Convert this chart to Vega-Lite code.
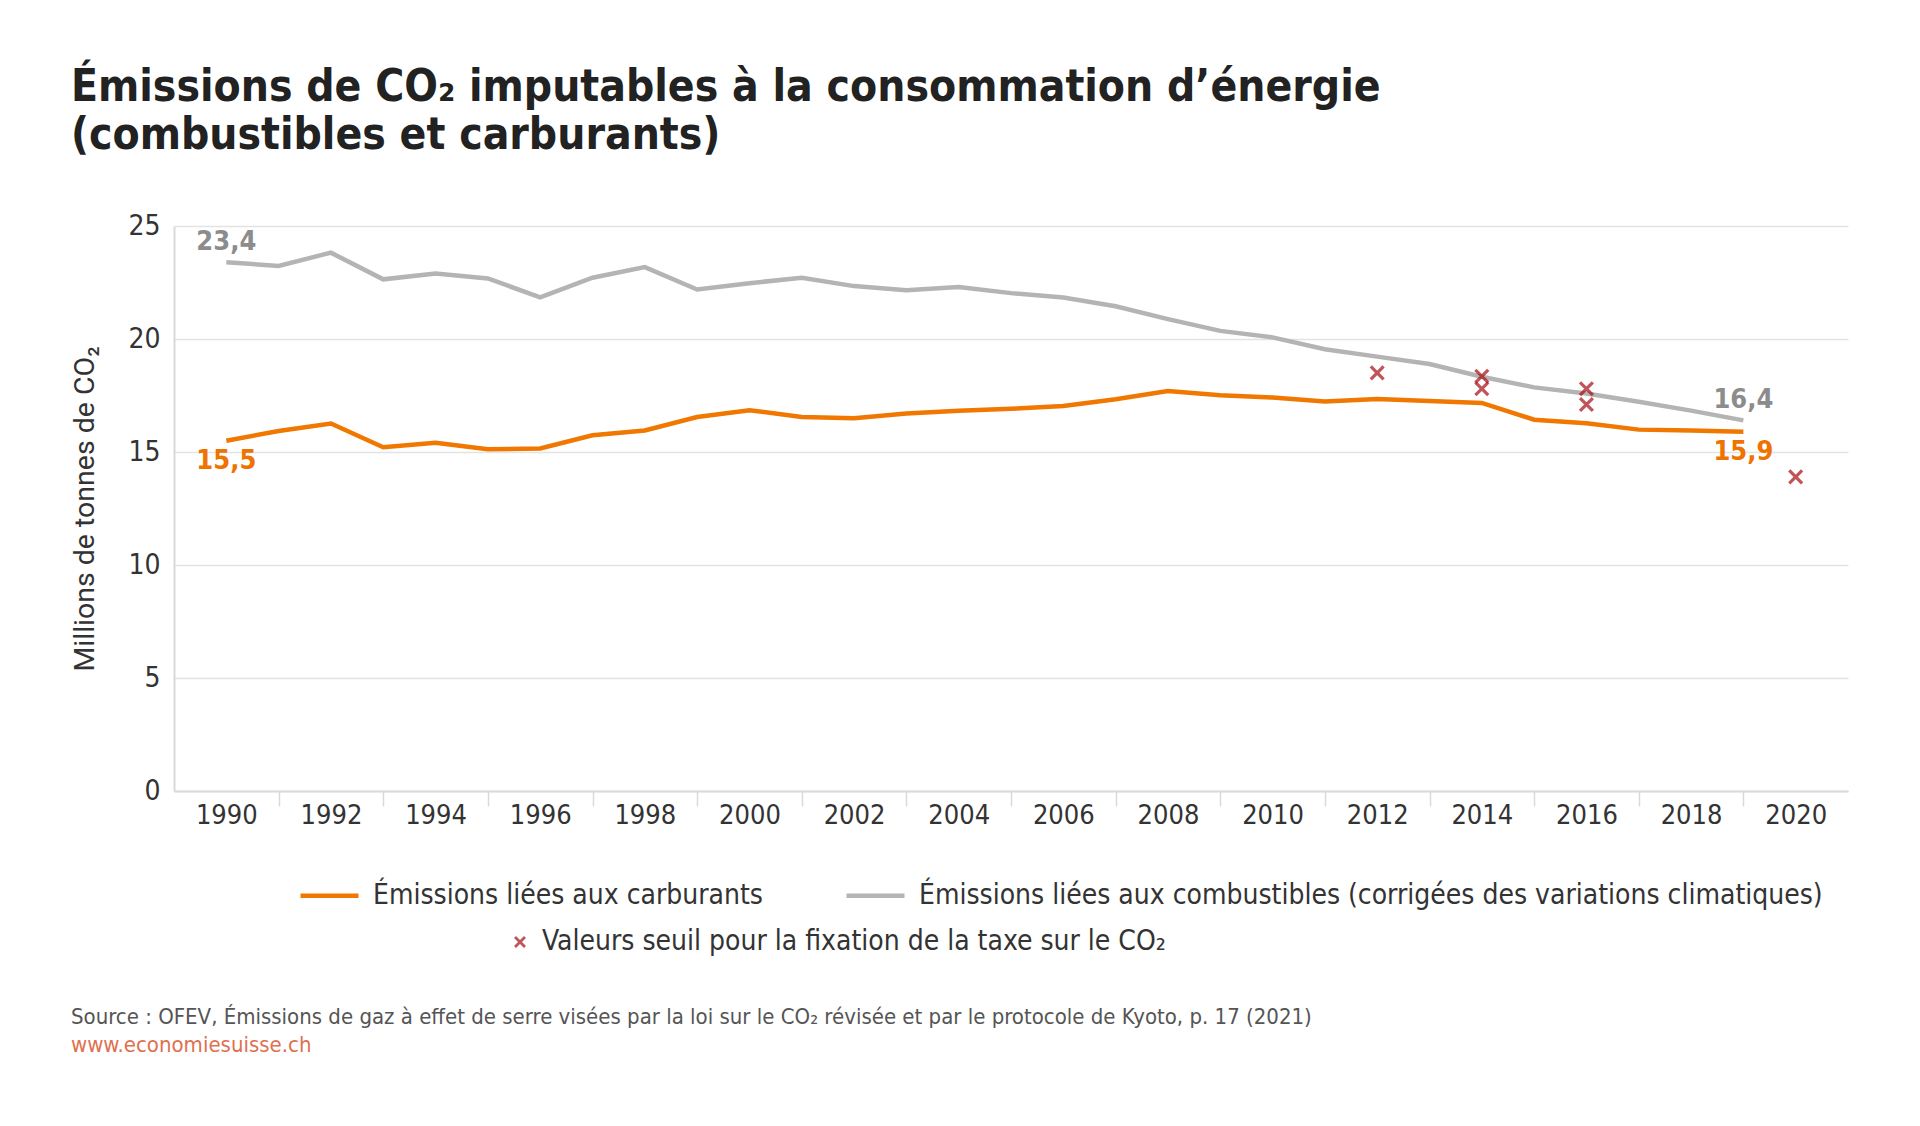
{
  "$schema": "https://vega.github.io/schema/vega-lite/v6.json",
  "background": "white",
  "padding": {"left": 70, "top": 66, "right": 71, "bottom": 20},
  "config": {
    "locale": {"number": {"decimal": ",", "thousands": " ", "grouping": [3], "currency": ["", " CHF"]}},
    "view": {"stroke": null},
    "font": "DejaVu Sans Condensed, sans-serif",
    "concat": {"spacing": 0}
  },
  "title": {
    "text": ["Émissions de CO₂ imputables à la consommation d’énergie", "(combustibles et carburants)"],
    "anchor": "start",
    "frame": "bounds",
    "font": "DejaVu Sans Condensed, sans-serif",
    "fontSize": 44,
    "fontWeight": "bold",
    "lineHeight": 48,
    "color": "#222222",
    "offset": 54
  },
  "datasets": {
    "emissions": [
      {"annee": 1990, "carburants": 15.5, "combustibles": 23.4},
      {"annee": 1991, "carburants": 15.93, "combustibles": 23.23},
      {"annee": 1992, "carburants": 16.26, "combustibles": 23.82},
      {"annee": 1993, "carburants": 15.21, "combustibles": 22.64},
      {"annee": 1994, "carburants": 15.41, "combustibles": 22.9},
      {"annee": 1995, "carburants": 15.12, "combustibles": 22.68},
      {"annee": 1996, "carburants": 15.16, "combustibles": 21.84},
      {"annee": 1997, "carburants": 15.74, "combustibles": 22.71},
      {"annee": 1998, "carburants": 15.95, "combustibles": 23.18},
      {"annee": 1999, "carburants": 16.55, "combustibles": 22.19},
      {"annee": 2000, "carburants": 16.85, "combustibles": 22.47},
      {"annee": 2001, "carburants": 16.55, "combustibles": 22.71},
      {"annee": 2002, "carburants": 16.49, "combustibles": 22.34},
      {"annee": 2003, "carburants": 16.7, "combustibles": 22.16},
      {"annee": 2004, "carburants": 16.82, "combustibles": 22.3},
      {"annee": 2005, "carburants": 16.91, "combustibles": 22.03},
      {"annee": 2006, "carburants": 17.04, "combustibles": 21.84},
      {"annee": 2007, "carburants": 17.33, "combustibles": 21.45},
      {"annee": 2008, "carburants": 17.7, "combustibles": 20.88},
      {"annee": 2009, "carburants": 17.51, "combustibles": 20.36},
      {"annee": 2010, "carburants": 17.41, "combustibles": 20.07},
      {"annee": 2011, "carburants": 17.23, "combustibles": 19.55},
      {"annee": 2012, "carburants": 17.34, "combustibles": 19.22},
      {"annee": 2013, "carburants": 17.26, "combustibles": 18.89},
      {"annee": 2014, "carburants": 17.17, "combustibles": 18.33},
      {"annee": 2015, "carburants": 16.43, "combustibles": 17.86},
      {"annee": 2016, "carburants": 16.27, "combustibles": 17.59},
      {"annee": 2017, "carburants": 15.99, "combustibles": 17.22},
      {"annee": 2018, "carburants": 15.95, "combustibles": 16.83},
      {"annee": 2019, "carburants": 15.9, "combustibles": 16.4}
    ],
    "seuils": [
      {"annee": 2012, "valeur": 18.5, "type": "Valeurs seuil pour la fixation de la taxe sur le CO₂"},
      {"annee": 2014, "valeur": 18.35, "type": "Valeurs seuil pour la fixation de la taxe sur le CO₂"},
      {"annee": 2014, "valeur": 17.8, "type": "Valeurs seuil pour la fixation de la taxe sur le CO₂"},
      {"annee": 2016, "valeur": 17.8, "type": "Valeurs seuil pour la fixation de la taxe sur le CO₂"},
      {"annee": 2016, "valeur": 17.1, "type": "Valeurs seuil pour la fixation de la taxe sur le CO₂"},
      {"annee": 2020, "valeur": 13.9, "type": "Valeurs seuil pour la fixation de la taxe sur le CO₂"}
    ]
  },
  "vconcat": [
    {
      "width": 1674,
      "height": 565,
      "title": {
        "text": "Source : OFEV, Émissions de gaz à effet de serre visées par la loi sur le CO₂ révisée et par le protocole de Kyoto, p. 17 (2021)",
        "subtitle": "www.economiesuisse.ch",
        "orient": "bottom",
        "anchor": "start",
        "frame": "bounds",
        "font": "DejaVu Sans Condensed, sans-serif",
        "fontSize": 22,
        "fontWeight": "normal",
        "color": "#555555",
        "subtitleFont": "DejaVu Sans Condensed, sans-serif",
        "subtitleFontSize": 22,
        "subtitleColor": "#e07050",
        "subtitlePadding": 6,
        "offset": 179
      },
      "encoding": {
        "x": {
          "field": "annee",
          "type": "quantitative",
          "scale": {"domain": [1989, 2021], "nice": false, "zero": false},
          "axis": {
            "values": [1990, 1991, 1992, 1993, 1994, 1995, 1996, 1997, 1998, 1999, 2000, 2001, 2002, 2003, 2004, 2005, 2006, 2007, 2008, 2009, 2010, 2011, 2012, 2013, 2014, 2015, 2016, 2017, 2018, 2019, 2020],
            "labelExpr": "datum.value % 2 === 0 ? '' + datum.value : ''",
            "tickOpacity": {"condition": {"test": "datum.value % 2 === 0", "value": 0}, "value": 1},
            "tickSize": 15,
            "tickWidth": 1.5,
            "tickColor": "#d9d9d9",
            "domainColor": "#d9d9d9",
            "domainWidth": 2,
            "grid": false,
            "title": null,
            "labelFontSize": 27,
            "labelColor": "#333333",
            "labelPadding": -4,
            "labelOverlap": false,
            "labelFlush": false
          }
        },
        "y": {
          "field": "valeur",
          "type": "quantitative",
          "scale": {"domain": [0, 25], "nice": false},
          "axis": {
            "values": [0, 5, 10, 15, 20, 25],
            "title": "Millions de tonnes de CO₂",
            "titleFont": "Roboto",
            "titleFontSize": 28.5,
            "titleFontWeight": "normal",
            "titleColor": "#333333",
            "titlePadding": 28,
            "labelFontSize": 28,
            "labelColor": "#333333",
            "labelPadding": 14,
            "ticks": false,
            "domain": true,
            "domainColor": "#d9d9d9",
            "domainWidth": 2,
            "grid": true,
            "gridColor": "#e3e3e3",
            "gridWidth": 1.5
          }
        }
      },
      "layer": [
        {
          "data": {"name": "emissions"},
          "transform": [{"fold": ["carburants", "combustibles"], "as": ["serie", "valeur"]}],
          "mark": {"type": "line", "strokeWidth": 4.5, "strokeJoin": "miter"},
          "encoding": {
            "color": {
              "field": "serie",
              "type": "nominal",
              "scale": {"domain": ["carburants", "combustibles"], "range": ["#f07800", "#b4b4b4"]},
              "legend": {
                "orient": "none",
                "legendX": 124,
                "legendY": 638,
                "direction": "horizontal",
                "title": null,
                "symbolType": "stroke",
                "symbolSize": 3364,
                "symbolStrokeWidth": 4.5,
                "labelFontSize": 28,
                "labelColor": "#333333",
                "labelOffset": 12,
                "columnPadding": 74,
                "labelLimit": 1000,
                "labelExpr": "datum.value === 'carburants' ? 'Émissions liées aux carburants' : 'Émissions liées aux combustibles (corrigées des variations climatiques)'"
              }
            }
          }
        },
        {
          "data": {"name": "emissions"},
          "transform": [
            {"filter": "datum.annee === 1990 || datum.annee === 2019"},
            {"fold": ["combustibles"], "as": ["serie", "valeur"]}
          ],
          "mark": {"type": "text", "dy": -20, "fontSize": 27, "fontWeight": "bold", "color": "#8c8c8c", "baseline": "middle"},
          "encoding": {"text": {"field": "valeur", "type": "quantitative", "format": ".1f"}}
        },
        {
          "data": {"name": "emissions"},
          "transform": [
            {"filter": "datum.annee === 1990 || datum.annee === 2019"},
            {"fold": ["carburants"], "as": ["serie", "valeur"]}
          ],
          "mark": {"type": "text", "dy": 20, "fontSize": 27, "fontWeight": "bold", "color": "#ef7300", "baseline": "middle"},
          "encoding": {"text": {"field": "valeur", "type": "quantitative", "format": ".1f"}}
        },
        {
          "data": {"name": "seuils"},
          "mark": {"type": "point", "filled": false, "color": "#a80c12", "strokeWidth": 3.2, "size": 165},
          "encoding": {
            "shape": {
              "field": "type",
              "type": "nominal",
              "scale": {"range": ["M-1,-1L1,1M-1,1L1,-1"]},
              "legend": {
                "orient": "none",
                "legendX": 332,
                "legendY": 702,
                "title": null,
                "symbolSize": 100,
                "symbolStrokeWidth": 2.8,
                "symbolStrokeColor": "#a80c12",
                "labelFontSize": 28,
                "labelColor": "#333333",
                "labelOffset": 8,
                "labelLimit": 1000
              }
            }
          }
        }
      ]
    }
  ]
}
